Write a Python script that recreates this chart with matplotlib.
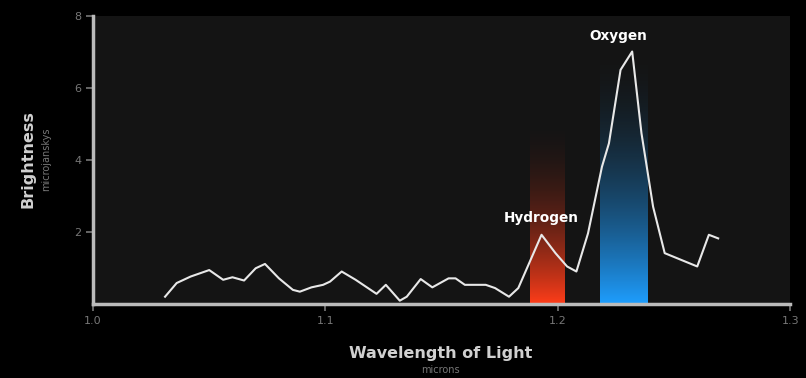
import numpy as np
import matplotlib
matplotlib.use("Agg")
import matplotlib.pyplot as plt

# spectrum (wavelength in microns, brightness in microjanskys)
wavelength = [1.031, 1.036, 1.042, 1.050, 1.056, 1.060, 1.065, 1.070, 1.074, 1.080,
              1.086, 1.089, 1.094, 1.099, 1.102, 1.107, 1.113, 1.122, 1.126, 1.132,
              1.135, 1.141, 1.146, 1.153, 1.156, 1.160, 1.169, 1.173, 1.179, 1.183,
              1.193, 1.199, 1.204, 1.208, 1.213, 1.219, 1.222, 1.227, 1.232, 1.236,
              1.241, 1.246, 1.260, 1.265, 1.269]
brightness = [0.20, 0.58, 0.76, 0.94, 0.67, 0.74, 0.65, 0.99, 1.11, 0.71,
              0.39, 0.34, 0.46, 0.53, 0.62, 0.90, 0.67, 0.28, 0.53, 0.09,
              0.20, 0.69, 0.46, 0.71, 0.71, 0.53, 0.53, 0.44, 0.20, 0.44,
              1.92, 1.41, 1.04, 0.90, 1.96, 3.81, 4.46, 6.50, 7.01, 4.74,
              2.70, 1.41, 1.04, 1.92, 1.82]

bands = ["Hydrogen", "Oxygen"]
band_lo = [1.188, 1.218]
band_hi = [1.203, 1.2385]
band_top = [5.2, 7.2]
band_rgb = [(1.0, 0.24, 0.10), (0.12, 0.62, 1.0)]
label_x = [1.193, 1.2262]
label_y = [2.2, 7.25]

xticks = [1.0, 1.1, 1.2, 1.3]
yticks = [2, 4, 6, 8]

fig = plt.figure(figsize=(8.06, 3.78), dpi=100, facecolor="black")
ax = fig.add_axes([0.1154, 0.196, 0.865, 0.762])
ax.set_facecolor("#141414")

for lo, hi, top, rgb in zip(band_lo, band_hi, band_top, band_rgb):
    alpha = np.linspace(1, 0, 256) ** 1.9
    img = np.zeros((256, 1, 4))
    img[..., 0], img[..., 1], img[..., 2] = rgb
    img[:, 0, 3] = alpha
    ax.imshow(img, extent=[lo, hi, 0, top], origin="lower", aspect="auto",
              interpolation="bilinear", zorder=1)

ax.plot(wavelength, brightness, color="#e8e8e8", lw=1.5, zorder=3)

for name, x, y in zip(bands, label_x, label_y):
    ax.text(x, y, name, color="white", fontsize=9.8, fontweight="bold",
            ha="center", va="bottom", zorder=4)

ax.set_xlim(1.0, 1.3)
ax.set_ylim(0, 8)
ax.set_xticks(xticks)
ax.set_xticklabels(["1.0", "1.1", "1.2", "1.3"])
ax.set_yticks(yticks)
ax.tick_params(colors="#777777", labelsize=8, length=5, width=1.2, direction="out")
for side in ["top", "right"]:
    ax.spines[side].set_visible(False)
for side in ["left", "bottom"]:
    ax.spines[side].set_color("#bbbbbb")
    ax.spines[side].set_linewidth(2.5)

fig.text(0.035, 0.58, "Brightness", rotation=90, color="#d0d0d0", fontsize=11.5,
         fontweight="bold", ha="center", va="center")
fig.text(0.057, 0.58, "microjanskys", rotation=90, color="#777777", fontsize=7,
         ha="center", va="center")
fig.text(0.547, 0.065, "Wavelength of Light", color="#d0d0d0", fontsize=11.5,
         fontweight="bold", ha="center", va="center")
fig.text(0.547, 0.02, "microns", color="#777777", fontsize=7, ha="center", va="center")

fig.savefig("out.png", dpi=100, facecolor="black")
